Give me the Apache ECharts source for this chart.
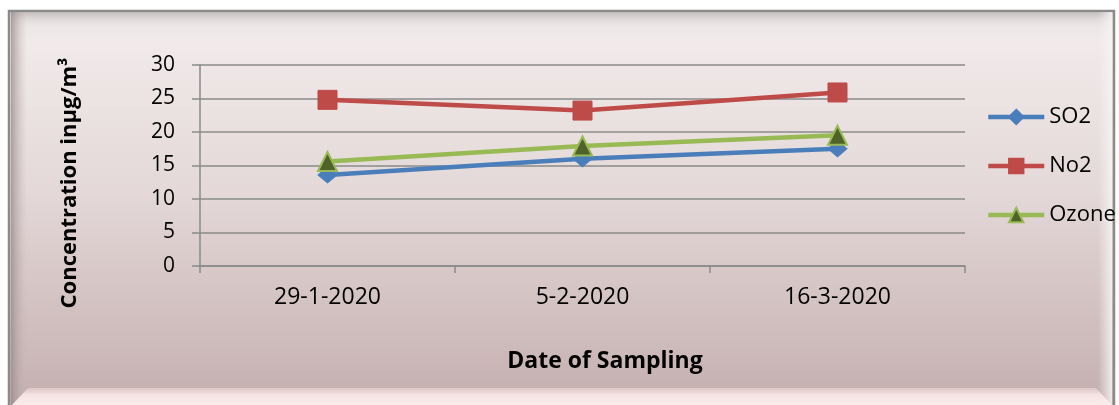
<!DOCTYPE html>
<html>
<head>
<meta charset="utf-8">
<script src="https://cdn.jsdelivr.net/npm/echarts@6/dist/echarts.min.js"></script>
<style>
  html, body { margin: 0; padding: 0; background: #ffffff; }
  #chart { width: 1119px; height: 405px; }
</style>
</head>
<body>
<div id="chart"></div>
<script>
// Sampling dates and measured concentrations (µg/m³)
const dates = ['29-1-2020', '5-2-2020', '16-3-2020'];
const so2 = [13.6, 16.0, 17.5];
const no2 = [24.8, 23.2, 25.9];
const ozone = [15.6, 17.9, 19.5];
const yTicks = { min: 0, max: 30, interval: 5 };

const FONT = '"Open Sans", "Noto Sans", sans-serif';
const xTitle = 'Date of Sampling';
const yTitle = 'Concentration inµg/m³';

const chart = echarts.init(document.getElementById('chart'), null, { renderer: 'canvas' });

// Framed panel with soft bevel and vertical pink-grey gradient
const frame = [
  {
    type: 'rect', z: -20, silent: true,
    shape: { x: 9, y: 11, width: 1105, height: 400 },
    style: {
      fill: new echarts.graphic.LinearGradient(0, 0, 0, 1, [
        { offset: 0, color: '#e9e3e3' },
        { offset: 0.08, color: '#f1eaea' },
        { offset: 0.45, color: '#e4d8d8' },
        { offset: 1, color: '#c3adad' }
      ]),
      stroke: '#8a8a8a', lineWidth: 2.5
    }
  },
  {
    type: 'rect', z: -19, silent: true,
    shape: { x: 11, y: 12, width: 1101, height: 16 },
    style: {
      fill: new echarts.graphic.LinearGradient(0, 0, 0, 1, [
        { offset: 0, color: 'rgba(190,185,185,0.9)' },
        { offset: 1, color: 'rgba(235,228,228,0)' }
      ])
    }
  },
  {
    type: 'rect', z: -19, silent: true,
    shape: { x: 11, y: 12, width: 16, height: 393 },
    style: {
      fill: new echarts.graphic.LinearGradient(0, 0, 1, 0, [
        { offset: 0, color: 'rgba(150,135,135,0.75)' },
        { offset: 1, color: 'rgba(200,185,185,0)' }
      ])
    }
  },
  {
    type: 'rect', z: -19, silent: true,
    shape: { x: 1098, y: 12, width: 14, height: 393 },
    style: {
      fill: new echarts.graphic.LinearGradient(0, 0, 1, 0, [
        { offset: 0, color: 'rgba(245,240,240,0)' },
        { offset: 1, color: 'rgba(248,244,244,0.85)' }
      ])
    }
  },
  {
    type: 'polygon', z: -18, silent: true,
    shape: { points: [[12, 405], [28, 388], [1096, 388], [1112, 405]] },
    style: {
      fill: new echarts.graphic.LinearGradient(0, 0, 0, 1, [
        { offset: 0, color: 'rgba(236,212,212,0.6)' },
        { offset: 0.4, color: 'rgba(248,230,230,0.95)' },
        { offset: 1, color: 'rgba(250,236,236,1)' }
      ])
    }
  },
  // Axis titles
  {
    type: 'text', z: 10, silent: true,
    x: 605, y: 361,
    style: {
      text: xTitle, fontFamily: FONT, fontSize: 23, fontWeight: 'bold',
      fill: '#000000', align: 'center', verticalAlign: 'middle'
    }
  },
  {
    type: 'text', z: 10, silent: true,
    x: 70, y: 183, rotation: Math.PI / 2,
    style: {
      text: yTitle, fontFamily: FONT, fontSize: 22, fontWeight: 'bold',
      fill: '#000000', align: 'center', verticalAlign: 'middle'
    }
  }
];

const option = {
  backgroundColor: 'transparent',
  animation: false,
  graphic: frame,
  grid: { left: 200, right: 154, top: 65, bottom: 139 },
  legend: {
    orient: 'vertical',
    left: 986,
    top: 106,
    padding: 0,
    itemWidth: 56,
    itemHeight: 18,
    itemGap: 27,
    lineStyle: { width: 4.5 },
    textStyle: { fontFamily: FONT, fontSize: 22, color: '#000000', lineHeight: 22 },
    data: ['SO2', 'No2', 'Ozone']
  },
  xAxis: {
    type: 'category',
    data: dates,
    boundaryGap: true,
    axisLine: { show: true, lineStyle: { color: '#8a8a8a', width: 1.5 } },
    axisTick: { show: true, length: 7, lineStyle: { color: '#8a8a8a', width: 1.5 } },
    axisLabel: { fontFamily: FONT, fontSize: 23, color: '#000000', margin: 20 },
    splitLine: { show: false }
  },
  yAxis: {
    type: 'value',
    min: yTicks.min,
    max: yTicks.max,
    interval: yTicks.interval,
    axisLine: { show: true, lineStyle: { color: '#8a8a8a', width: 1.5 } },
    axisTick: { show: true, length: 8, lineStyle: { color: '#8a8a8a', width: 1.5 } },
    axisLabel: { fontFamily: FONT, fontSize: 21, color: '#000000', margin: 25 },
    splitLine: { show: true, lineStyle: { color: '#8a8a8a', width: 1.5 } }
  },
  series: [
    {
      name: 'SO2', type: 'line', data: so2,
      symbol: 'diamond', symbolSize: [19, 16],
      lineStyle: { color: '#4a7ebb', width: 4.5 },
      itemStyle: { color: '#4a7ebb', borderColor: '#4a7ebb', borderWidth: 1 },
      z: 3
    },
    {
      name: 'No2', type: 'line', data: no2,
      symbol: 'rect', symbolSize: 19,
      lineStyle: { color: '#be4b48', width: 4.5 },
      itemStyle: { color: '#be4b48', borderColor: '#be4b48', borderWidth: 1 },
      z: 3
    },
    {
      name: 'Ozone', type: 'line', data: ozone,
      symbol: 'triangle', symbolSize: [19, 19],
      lineStyle: { color: '#98b954', width: 4.5 },
      itemStyle: { color: '#4f6228', borderColor: '#98b954', borderWidth: 2 },
      z: 4
    }
  ]
};

chart.setOption(option);
</script>
</body>
</html>
